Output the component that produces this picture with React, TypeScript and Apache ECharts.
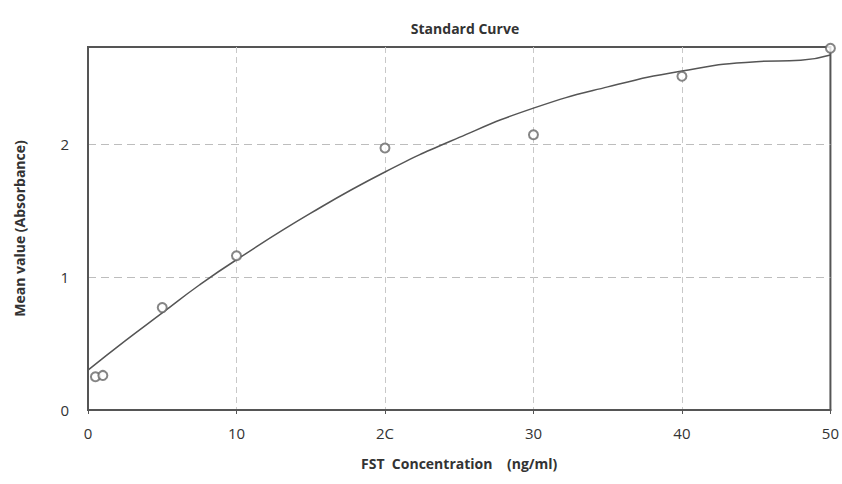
import React, { useEffect, useRef } from "react";
import * as echarts from "echarts";

const concentrations = [0.5, 1, 5, 10, 20, 30, 40, 50];
const meanValues = [0.25, 0.26, 0.77, 1.16, 1.97, 2.07, 2.51, 2.72];

const curveX = [0, 2.5, 5, 7.5, 10, 15, 20, 25, 30, 35, 40, 45, 48, 50];
const curveY = [0.3, 0.52, 0.73, 0.94, 1.13, 1.48, 1.79, 2.05, 2.27, 2.43, 2.55, 2.62, 2.63, 2.67];

const xTickLabels = ["0", "10", "2C", "30", "40", "50"];
const yTickLabels = ["0", "1", "2"];

export default function App() {
  const ref = useRef<HTMLDivElement>(null);
  useEffect(() => {
    if (!ref.current) return;
    const chart = echarts.init(ref.current, null, { renderer: "svg" });
    const font = "'Open Sans', 'Liberation Sans', sans-serif";
    chart.setOption({
      animation: false,
      backgroundColor: "#ffffff",
      title: {
        text: "Standard Curve",
        left: 460,
        top: 16,
        textAlign: "center",
        textStyle: { fontFamily: font, fontSize: 14, fontWeight: "bold", color: "#333" },
      },
      grid: {
        left: 88,
        right: 9,
        top: 47,
        bottom: 74,
        show: true,
        borderColor: "#555",
        borderWidth: 2,
        backgroundColor: "transparent",
      },
      xAxis: {
        type: "value",
        min: 0,
        max: 50,
        interval: 10,
        name: "FST  Concentration    (ng/ml)",
        nameLocation: "middle",
        nameGap: 46,
        nameTextStyle: { fontFamily: font, fontSize: 14, fontWeight: "bold", color: "#333" },
        axisLine: { show: true, lineStyle: { color: "#555", width: 2 } },
        axisTick: { show: true, length: 4, lineStyle: { color: "#555" } },
        axisLabel: {
          fontFamily: font,
          fontSize: 15,
          color: "#333",
          margin: 15,
          formatter: (v: number) => xTickLabels[Math.round(v / 10)] ?? "",
        },
        splitLine: {
          show: true,
          showMinLine: false,
          showMaxLine: false,
          lineStyle: { color: "#c8c8c8", type: [6, 4], width: 1 },
        },
      },
      yAxis: {
        type: "value",
        min: 0,
        max: 2.73,
        interval: 1,
        name: "Mean value (Absorbance)",
        nameLocation: "middle",
        nameGap: 62,
        nameTextStyle: { fontFamily: font, fontSize: 14, fontWeight: "bold", color: "#333" },
        axisLine: { show: true, lineStyle: { color: "#555", width: 2 } },
        axisTick: { show: false },
        axisLabel: {
          fontFamily: font,
          fontSize: 15,
          color: "#333",
          margin: 19,
          showMaxLabel: false,
          formatter: (v: number) => yTickLabels[Math.round(v)] ?? "",
        },
        splitLine: {
          show: true,
          showMinLine: false,
          showMaxLine: false,
          lineStyle: { color: "#bdbdbd", type: [8, 5], width: 1 },
        },
      },
      series: [
        {
          type: "line",
          data: curveX.map((x, i) => [x, curveY[i]]),
          smooth: true,
          showSymbol: false,
          lineStyle: { color: "#555", width: 1.5 },
          silent: true,
        },
        {
          type: "scatter",
          data: concentrations.map((x, i) => [x, meanValues[i]]),
          symbol: "emptyCircle",
          symbolSize: 9,
          clip: false,
          itemStyle: { color: "#666", borderColor: "#666", borderWidth: 1.2 },
          z: 5,
        },
      ],
    });
    return () => chart.dispose();
  }, []);
  return (
    <div
      ref={ref}
      style={{ position: "fixed", left: 0, top: 0, width: 842, height: 484 }}
    />
  );
}
